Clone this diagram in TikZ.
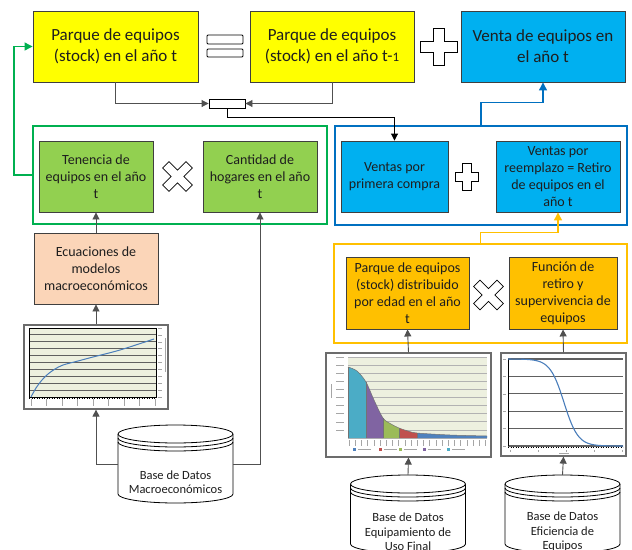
\documentclass[tikz,border=0pt]{standalone}
\usepackage{fontspec}
\setmainfont{Carlito}
\usetikzlibrary{arrows.meta}
\definecolor{yel}{HTML}{FFFF00}
\definecolor{bfill}{HTML}{00B0F0}
\definecolor{gfill}{HTML}{92D050}
\definecolor{peach}{HTML}{FBD5B8}
\definecolor{ofill}{HTML}{FFC000}
\definecolor{gline}{HTML}{00B050}
\definecolor{bline}{HTML}{0070C0}
\definecolor{oline}{HTML}{FFC000}
\definecolor{bord}{HTML}{3F3F3F}
\definecolor{conn}{HTML}{505050}
\definecolor{txt}{HTML}{1E1E1E}
\definecolor{plotbg}{HTML}{EDF0DF}
\definecolor{curve}{HTML}{4A7EBB}
\definecolor{cteal}{HTML}{4BACC6}
\definecolor{cpurp}{HTML}{8064A2}
\definecolor{cgreen}{HTML}{9BBB59}
\definecolor{cred}{HTML}{C0504D}
\definecolor{cblue}{HTML}{4F81BD}
\tikzset{
  box/.style={draw=bord, line width=0.9pt, align=center, text=txt, inner sep=1pt,
    font=\fontsize{14}{17}\selectfont, minimum height=71pt},
  bigbox/.style={box, minimum width=164pt, minimum height=71pt, font=\fontsize{17}{21}\selectfont},
  contbox/.style={line width=1.4pt, minimum width=#1, inner sep=0pt},
  chartbox/.style={draw=gray!85!black, line width=1.2pt, fill=white, inner sep=0pt},
  symb/.style={draw=black, line width=0.8pt, fill=white},
  arr/.style={draw=conn, line width=0.9pt, -{Triangle[length=7pt,width=7pt]}},
  plain/.style={draw=conn, line width=0.9pt},
  garr/.style={draw=gline, line width=1.2pt, -{Triangle[length=8pt,width=8pt]}},
  barr/.style={draw=bline, line width=1.2pt, -{Triangle[length=8pt,width=8pt]}},
  oarr/.style={draw=oline, line width=1.2pt, -{Triangle[length=8pt,width=8pt]}},
  dbline/.style={draw=black, line width=0.8pt, fill=white},
  dbtext/.style={align=center, text=txt, font=\fontsize{12.5}{14.5}\selectfont, inner sep=0pt},
  tick/.style={draw=gray!70, line width=0.6pt}
}
\newcommand\opsym[6]{%
  \begin{scope}[shift={(#1,#2)}, rotate=#6]
    \draw[symb] (-#5,#4) -- (#5,#4) -- (#5,#5) -- (#3,#5) -- (#3,-#5) -- (#5,-#5) -- (#5,-#4)
      -- (-#5,-#4) -- (-#5,-#5) -- (-#3,-#5) -- (-#3,#5) -- (-#5,#5) -- cycle;
  \end{scope}}
\newcommand\dbshape[2]{% #1 centre x, #2 top (y down, positive)
  \draw[dbline] ({#1-57.5},{-(#2)-9}) -- ({#1-57.5},{-(#2)-69})
    arc[start angle=180, end angle=360, x radius=57.5, y radius=9]
    -- ({#1+57.5},{-(#2)-9});
  \draw[dbline] (#1,{-(#2)-9}) ellipse [x radius=57.5, y radius=9];
  \draw[dbline, fill=none] ({#1-57.5},{-(#2)-13}) arc[start angle=180, end angle=360, x radius=57.5, y radius=9];
  \draw[dbline, fill=none] ({#1-57.5},{-(#2)-17}) arc[start angle=180, end angle=360, x radius=57.5, y radius=9];}
\newcommand\areafill[3]{%
  \begin{scope}
    \clip (#1,-350) rectangle (#2,-440);
    \fill[#3] plot[smooth] coordinates {(348,-367) (357,-371) (366,-382) (374,-400) (383,-418) (391,-424) (399,-428) (408,-431) (417,-433) (450,-435) (487,-436)}
      -- (487,-438) -- (348,-438) -- cycle;
  \end{scope}}
\begin{document}
\begin{tikzpicture}[x=1pt,y=1pt]
\clip (0,0) rectangle (632,-549);
\fill[white] (0,0) rectangle (632,-549);

% ---- containers
\node[contbox=294pt, minimum height=98pt, draw=gline] (greenc) at (180,-175) {};
\node[contbox=292pt, minimum height=99pt, draw=bline] (bluec) at (481,-175.5) {};
\node[contbox=293pt, minimum height=99pt, draw=oline] (orc) at (480.5,-293.5) {};

% ---- top row
\node[bigbox, fill=yel, minimum width=165pt] (b1) at (115.5,-46.5) {Parque de equipos\\(stock) en el año t};
\node[bigbox, fill=yel] (b2) at (332,-46.5) {Parque de equipos\\(stock) en el año t-{\fontsize{13}{13}\selectfont 1}};
\node[bigbox, fill=bfill] (b3) at (543,-46.5) {Venta de equipos en\\el año t};
\draw[symb, rounded corners=1pt] (207,-35) rectangle (243,-44);
\draw[symb, rounded corners=1pt] (207,-49) rectangle (243,-57);
\node[draw=none, minimum width=36pt, minimum height=22pt, inner sep=0pt] (eqsym) at (225,-46) {};
\opsym{438.5}{-46.5}{18.5}{18.5}{5.5}{0}
\node[draw=black, line width=0.9pt, fill=white, minimum width=36pt, minimum height=9pt, inner sep=0pt] (merge) at (227,-103.5) {};

% ---- green block
\node[box, fill=gfill, minimum width=114pt] (ten) at (96,-176.5) {Tenencia de\\equipos en el año\\t};
\node[box, fill=gfill, minimum width=114pt] (can) at (260,-176.5) {Cantidad de\\hogares en el año\\t};
\opsym{177.5}{-176.5}{16.5}{16.5}{4.5}{45}
\node[box, fill=peach, minimum width=124pt] (ecu) at (96,-268.5) {Ecuaciones de\\modelos\\macroeconómicos};

% ---- blue block
\node[box, fill=bfill, minimum width=107pt] (vp) at (394.5,-176.5) {Ventas por\\primera compra};
\node[box, fill=bfill, minimum width=124pt] (vr) at (558,-176.5) {Ventas por\\reemplazo = Retiro\\de equipos en el\\año t};
\opsym{467}{-177}{11.5}{13.5}{4.5}{0}

% ---- orange block
\node[box, fill=ofill, minimum width=123pt, minimum height=72pt] (pd) at (407.5,-293) {Parque de equipos\\(stock) distribuido\\por edad en el año\\t};
\node[box, fill=ofill, minimum width=108pt, minimum height=72pt] (fr) at (563,-293) {Función de\\retiro y\\supervivencia de\\equipos};
\opsym{488.5}{-295}{16.5}{16.5}{4.5}{45}

% ---- chart 1
\node[chartbox, minimum width=144pt, minimum height=84pt] (ch1) at (96,-367) {};
\fill[plotbg] (29,-328) rectangle (156,-397);
\foreach \i in {0,...,10} \draw[gray!75!black, line width=0.9pt] (29,{-328-6.9*\i}) -- (156,{-328-6.9*\i});
\draw[black, line width=0.8pt] (29,-328) rectangle (156,-397);
\draw[curve, line width=1pt] plot[smooth] coordinates {(31,-397) (36,-388) (42,-380) (48,-374) (55,-369) (63,-365) (78,-361) (93,-357) (120,-350) (154,-339)};
\foreach \i in {0,...,10} \draw[tick] (158,{-328-6.9*\i}) -- (162,{-328-6.9*\i});
\draw[tick] (165,-338) -- (165,-372);
\foreach \i in {0,...,8} \draw[tick] ({31+15.5*\i},-399) -- ({31+15.5*\i},-406);
\draw[black, line width=0.5pt, dotted] (29,-398) -- (156,-398);

% ---- chart 2
\node[chartbox, minimum width=165pt, minimum height=104pt] (ch2) at (408.5,-405) {};
\fill[plotbg] (348,-357) rectangle (487,-438);
\foreach \i in {0,...,10} \draw[gray!60, line width=0.8pt] (348,{-357-8.1*\i}) -- (487,{-357-8.1*\i});
\areafill{348}{366}{cteal}
\areafill{366}{383}{cpurp}
\areafill{383}{399}{cgreen}
\areafill{399}{417}{cred}
\areafill{417}{487}{cblue}
\draw[black!55, line width=0.5pt] plot[smooth] coordinates {(348,-367) (357,-371) (366,-382) (374,-400) (383,-418) (391,-424) (399,-428) (408,-431) (417,-433) (450,-435) (487,-436)};
\draw[black!55, line width=0.5pt] (348,-367) -- (348,-438) (366,-382) -- (366,-438) (383,-418) -- (383,-438) (399,-428) -- (399,-438) (417,-433) -- (417,-438);
\foreach \i in {0,...,9} \draw[tick] (336,{-357-8.1*\i}) -- (344,{-357-8.1*\i});
\draw[tick] (331,-384) -- (331,-398);
\foreach \i in {0,...,22} \draw[tick] ({349+6.2*\i},-440) -- ({349+6.2*\i},-446);
\foreach \x/\c in {353/cblue, 379/cred, 399/cgreen, 423/cpurp, 447/cteal} {
  \fill[\c] (\x,-447.5) rectangle ({\x+3},-450.5);
  \draw[tick] ({\x+5},-449) -- ({\x+18},-449);
}

% ---- chart 3
\node[chartbox, minimum width=125pt, minimum height=103pt] (ch3) at (563.5,-404.5) {};
\foreach \i in {0,...,5} \draw[gray!75!black, line width=1.3pt] (508,{-359-17.4*\i}) -- (623,{-359-17.4*\i});
\draw[black, line width=0.5pt] (508,-359) -- (508,-446);
\draw[black, line width=0.5pt, dotted] (508,-447) -- (623,-447);
\draw[curve, line width=1.1pt] plot[domain=508:623, samples=80] (\x, {-(359 + 87/(1+exp(-(\x-564)/7)))});
\foreach \i in {0,...,5} \draw[tick] (503,{-359-17.4*\i}) -- (506,{-359-17.4*\i});
\foreach \i in {0,...,4} \draw[tick] ({510+28*\i},-450) -- ({510+28*\i},-452);
\draw[tick] (559,-453) -- (569,-453);

% ---- databases
\dbshape{175.5}{425}
\node[minimum width=115pt, minimum height=78pt, inner sep=0pt] (dbm) at (175.5,-464) {};
\node[dbtext] (dbmt) at (175.5,-482) {Base de Datos\\Macroeconómicos};
\dbshape{408}{475}
\node[minimum width=115pt, minimum height=78pt, inner sep=0pt] (dbe) at (408,-514) {};
\node[dbtext] (dbet) at (408,-532) {Base de Datos\\Equipamiento de\\Uso Final};
\dbshape{562.5}{475}
\node[minimum width=115pt, minimum height=78pt, inner sep=0pt] (dbf) at (562.5,-514) {};
\node[dbtext] (dbft) at (562.5,-532) {Base de Datos\\Eficiencia de\\Equipos};

% ---- connectors
\draw[arr] (b1.south) |- (merge.west);
\draw[arr] (b2.south) |- (merge.east);
\coordinate (mturn) at ([yshift=-9pt]merge.south);
\draw[draw=black, line width=0.9pt, -{Triangle[length=7pt,width=7pt]}] (merge.south) -- (mturn) -| (vp.north);
\coordinate (bturn) at ([yshift=23pt]bluec.north);
\draw[barr] (bluec.north) -- (bturn) -| (b3.south);
\coordinate (oturn) at ([yshift=11pt]orc.north);
\draw[oarr] (orc.north) -- (oturn) -| (vr.south);
\coordinate (gturn) at (14,-175);
\draw[garr] (greenc.west) -- (gturn) |- (b1.west);
\draw[arr] (ecu.north) -- (ten.south);
\draw[arr] (ch1.north) -- (ecu.south);
\draw[arr] (dbm.west) -| (ch1.south);
\draw[arr] (dbm.east) -| (can.south);
\draw[arr] (ch2.north) -- (pd.south);
\draw[arr] (dbe.north) -- (ch2.south);
\draw[arr] (ch3.north) -- (fr.south);
\draw[arr] (dbf.north) -- (ch3.south);
\end{tikzpicture}
\end{document}
